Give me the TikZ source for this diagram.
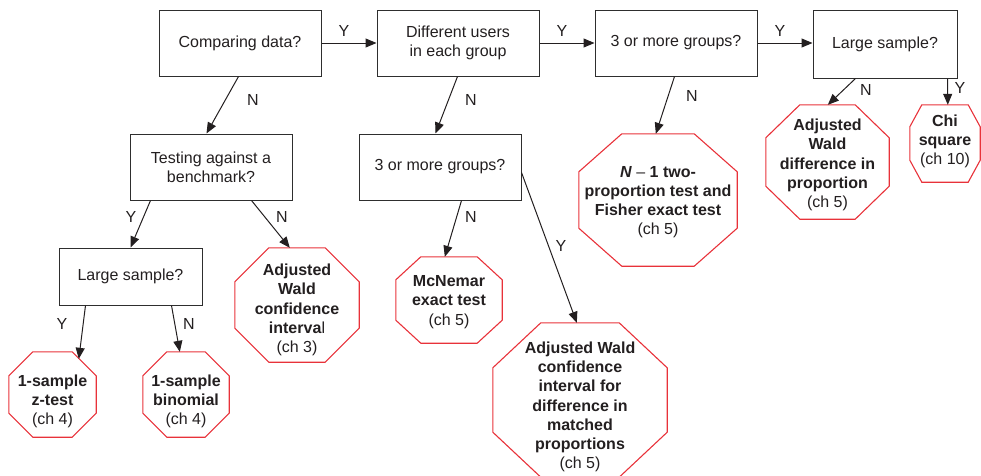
\documentclass[tikz,border=0pt]{standalone}
\usepackage{fontspec}
\setmainfont{Liberation Sans}
\usetikzlibrary{arrows.meta,calc}
\definecolor{ink}{HTML}{231F20}
\definecolor{boxline}{HTML}{2E2E2E}
\definecolor{octred}{HTML}{E8323A}
% #1 name, #2 center, #3 width, #4 height, #5 cut x, #6 cut y, #7 text shift down, #8 text
\newcommand{\octnode}[8]{%
  \node[inner sep=0pt, minimum width=#3, minimum height=#4] (#1) at #2 {};
  \draw[octline] ([xshift=#5]#1.north west) -- ([xshift=-#5]#1.north east)
    -- ([yshift=-#6]#1.north east) -- ([yshift=#6]#1.south east)
    -- ([xshift=-#5]#1.south east) -- ([xshift=#5]#1.south west)
    -- ([yshift=#6]#1.south west) -- ([yshift=-#6]#1.north west) -- cycle;
  \node[octtext] (#1-t) at ($(#1.center)+(0,#7)$) {#8};}
\begin{document}
\begin{tikzpicture}[x=1pt,y=-1pt,
  every node/.style={font=\fontsize{16}{19.2}\selectfont, text=ink},
  qbox/.style={draw=boxline, line width=1pt, inner sep=0pt, align=center,
    minimum width=162pt, minimum height=66pt},
  octtext/.style={inner sep=0pt, align=center},
  octline/.style={draw=octred, line width=1.1pt},
  arr/.style={draw=ink, line width=1pt, -{Triangle[length=11pt,width=9pt]}},
  lbl/.style={inner sep=0pt}]
\useasboundingbox (0,0) rectangle (981,475);
% question boxes
\node[qbox] (cmp) at (240,43) {Comparing data?};
\node[qbox] (diff) at (458,43) {Different users\\in each group};
\node[qbox] (g3a) at (676,43) {3 or more groups?};
\node[qbox, minimum width=144pt, minimum height=68pt] (lsa) at (885,44) {Large sample?};
\node[qbox] (tst) at (211,167) {Testing against a\\benchmark?};
\node[qbox] (g3b) at (440,167) {3 or more groups?};
\node[qbox, minimum width=143pt, minimum height=57pt] (lsb) at (130.5,276.5) {Large sample?};
% result octagons
\octnode{zt}{(52.5,394.5)}{87pt}{85pt}{24pt}{24pt}{7}
  {\textbf{1-sample}\\\textbf{z-test}\\(ch 4)}
\octnode{bin}{(186,394.5)}{86pt}{85pt}{24pt}{24pt}{7}
  {\textbf{1-sample}\\\textbf{binomial}\\(ch 4)}
\octnode{awci}{(297,305)}{124pt}{114pt}{34pt}{34pt}{5}
  {\textbf{Adjusted}\\\textbf{Wald}\\\textbf{confidence}\\\textbf{interva}l\\(ch 3)}
\octnode{mcn}{(449,300)}{106pt}{86pt}{25pt}{23pt}{2}
  {\textbf{McNemar}\\\textbf{exact test}\\(ch 5)}
\octnode{mat}{(580,400)}{174pt}{154pt}{48pt}{45pt}{7}
  {\textbf{Adjusted Wald}\\\textbf{confidence}\\\textbf{interval for}\\\textbf{difference in}\\\textbf{matched}\\\textbf{proportions}\\(ch 5)}
\octnode{n1}{(658,200)}{158pt}{132pt}{43pt}{38pt}{2}
  {\textbf{\textit{N}} – \textbf{1 two-}\\\textbf{proportion test and}\\\textbf{Fisher exact test}\\(ch 5)}
\octnode{awd}{(827.5,162)}{123pt}{114pt}{34pt}{33pt}{3}
  {\textbf{Adjusted}\\\textbf{Wald}\\\textbf{difference in}\\\textbf{proportion}\\(ch 5)}
\octnode{chi}{(945,143.5)}{70pt}{77pt}{12pt}{22pt}{-2}
  {\textbf{Chi}\\\textbf{square}\\(ch 10)}
% connectors
\draw[arr] (cmp.east) -- (diff.west);
\draw[arr] (diff.east) -- (g3a.west);
\draw[arr] (g3a.east) -- (g3a.east -| lsa.west);
\draw[arr] ($(cmp.south west)+(80,0)$) -- ($(tst.north west)+(77,0)$);
\draw[arr] ($(diff.south west)+(81,0)$) -- ($(g3b.north west)+(77,0)$);
\draw[arr] ($(g3a.south west)+(80,0)$) -- ($(n1.north west)+(77,0)$);
\draw[arr] ($(lsa.south west)+(43,0)$) -- ($(awd.north west)+(62,0)$);
\draw[arr] ($(lsa.south west)+(135,0)$) -- ($(chi.north west)+(38,0)$);
\draw[arr] ($(tst.south west)+(21,0)$) -- ($(lsb.north west)+(72,0)$);
\draw[arr] ($(tst.south west)+(122,0)$) -- ($(awci.north west)+(55,0)$);
\draw[arr] ($(g3b.south west)+(103,0)$) -- ($(mcn.north west)+(49,0)$);
\draw[arr] ($(g3b.north east)+(0,39)$) -- ($(mat.north west)+(84,0)$);
\draw[arr] ($(lsb.south west)+(27,0)$) -- ($(zt.north west)+(70,7)$);
\draw[arr] ($(lsb.south west)+(113,0)$) -- ($(bin.north west)+(37,0)$);
% labels
\node[lbl] (l1) at (344,31) {Y};
\node[lbl] (l2) at (562,31) {Y};
\node[lbl] (l3) at (780,31) {Y};
\node[lbl] (l4) at (253,100) {N};
\node[lbl] (l5) at (471,100) {N};
\node[lbl] (l6) at (692,96) {N};
\node[lbl] (l7) at (866,90) {N};
\node[lbl] (l8) at (960,88) {Y};
\node[lbl] (l9) at (131,217) {Y};
\node[lbl] (l10) at (282,217) {N};
\node[lbl] (l11) at (471,217) {N};
\node[lbl] (l12) at (561,246) {Y};
\node[lbl] (l13) at (62,324) {Y};
\node[lbl] (l14) at (189,324) {N};
\end{tikzpicture}
\end{document}
